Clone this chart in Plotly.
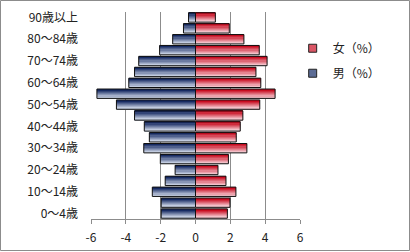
import plotly.graph_objects as go

ages = ["0～4歳", "5～9歳", "10～14歳", "15～19歳", "20～24歳", "25～29歳",
        "30～34歳", "35～39歳", "40～44歳", "45～49歳", "50～54歳", "55～59歳",
        "60～64歳", "65～69歳", "70～74歳", "75～79歳", "80～84歳", "85～89歳",
        "90歳以上"]
male = [-1.97, -1.97, -2.48, -1.74, -1.17, -2.02, -2.97, -2.65, -2.94, -3.5,
        -4.54, -5.66, -3.83, -3.5, -3.26, -2.06, -1.31, -0.69, -0.4]
female = [1.83, 1.98, 2.32, 1.75, 1.29, 1.89, 2.95, 2.34, 2.57, 2.72,
          3.69, 4.57, 3.75, 3.47, 4.11, 3.66, 2.78, 1.94, 1.14]
x_ticks = [-6, -4, -2, 0, 2, 4, 6]
label_ages = ages[::2]

FONT = "Noto Sans CJK JP"
BW = 0.86
N = 8


def mix(c1, c2, t):
    return "rgb(%d,%d,%d)" % tuple(round(a + (b - a) * t) for a, b in zip(c1, c2))


series = [
    ("男（%）", male, (222, 230, 244), (22, 42, 98), 2),
    ("女（%）", female, (250, 222, 228), (200, 12, 32), 1),
]

fig = go.Figure()
for name, vals, light, dark, rank in series:
    w = BW / N
    for k in range(N):
        fig.add_trace(go.Bar(
            y=ages, x=vals, orientation="h", width=w, offset=-BW / 2 + k * w,
            marker=dict(color=mix(light, dark, k / (N - 1)), line=dict(width=0)),
            showlegend=False, hoverinfo="skip"))
    fig.add_trace(go.Bar(
        y=ages, x=vals, orientation="h", width=BW, offset=-BW / 2,
        marker=dict(color="rgba(0,0,0,0)", line=dict(color="#111111", width=1)),
        showlegend=False, name=name))
    fig.add_trace(go.Scatter(
        y=[None], x=[None], mode="markers", name=name,
        marker=dict(symbol="square", size=8, color=mix(light, dark, 0.65),
                    line=dict(color="#222222", width=1)),
        showlegend=True, legendrank=rank, legendgroup=name))

fig.update_layout(
    width=410, height=252,
    margin=dict(l=91, r=110, t=12, b=33, autoexpand=False),
    barmode="overlay",
    paper_bgcolor="white", plot_bgcolor="white",
    font=dict(family=FONT, size=12, color="#222222"),
    xaxis=dict(range=[-6, 6], tickvals=x_ticks, ticktext=[str(v) for v in x_ticks],
               showgrid=True, gridcolor="#8c8c8c", gridwidth=1,
               zeroline=True, zerolinecolor="#8c8c8c", zerolinewidth=1,
               showline=True, linecolor="#8c8c8c", ticks="outside", ticklen=4,
               tickcolor="#8c8c8c", tickfont=dict(size=12), ticklabelstandoff=4,
               fixedrange=True, layer="below traces"),
    yaxis=dict(type="category", categoryorder="array", categoryarray=ages,
               tickvals=label_ages, ticktext=label_ages, showgrid=False,
               showline=False, ticks="", tickfont=dict(size=12),
               ticklabelstandoff=12, fixedrange=True, range=[-0.5, 18.5]),
    legend=dict(x=0.965, y=0.895, xanchor="left", yanchor="top",
                font=dict(size=12), traceorder="grouped", tracegroupgap=6,
                itemwidth=30, bgcolor="rgba(0,0,0,0)"),
    shapes=[dict(type="rect", xref="paper", yref="paper",
                 x0=-90.5 / 209, x1=318.5 / 209, y0=-31.5 / 207, y1=11.5 / 207 + 1,
                 line=dict(color="#8c8c8c", width=1), fillcolor="rgba(0,0,0,0)",
                 layer="below")],
)

fig.write_html("out.html")
